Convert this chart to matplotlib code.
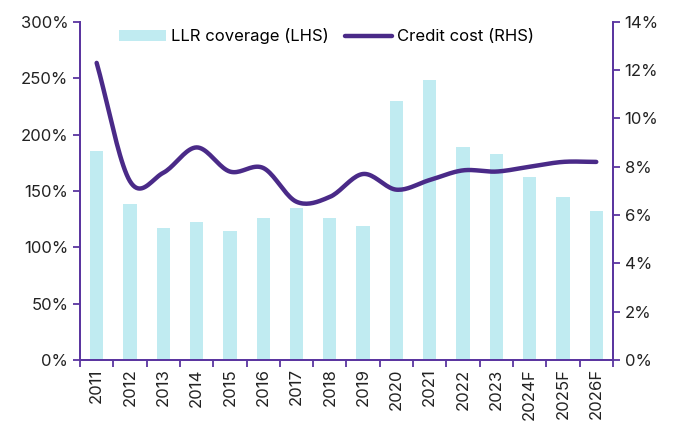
import matplotlib.pyplot as plt
import numpy as np

years = ["2011", "2012", "2013", "2014", "2015", "2016", "2017", "2018", "2019",
         "2020", "2021", "2022", "2023", "2024F", "2025F", "2026F"]
llr_coverage = [185, 138, 117, 122, 114, 126, 135, 126, 119,
                230, 248, 189, 183, 162, 145, 132]
credit_cost = [12.3, 7.4, 7.75, 8.8, 7.8, 7.95, 6.55, 6.75, 7.7,
               7.05, 7.45, 7.85, 7.8, 8.0, 8.2, 8.2]

purple = "#4a2a88"
spine_purple = "#5a35a0"
bar_col = "#c0ebf1"

plt.rcParams['font.family'] = ['Inter', 'DejaVu Sans']


def smooth(x, y, n=20):
    # catmull-rom curve through the points
    x = np.asarray(x, float)
    y = np.asarray(y, float)
    px = np.concatenate([[2 * x[0] - x[1]], x, [2 * x[-1] - x[-2]]])
    py = np.concatenate([[2 * y[0] - y[1]], y, [2 * y[-1] - y[-2]]])
    xs, ys = [], []
    t = np.linspace(0, 1, n, endpoint=False)
    for i in range(1, len(px) - 2):
        for p, out in ((px, xs), (py, ys)):
            p0, p1, p2, p3 = p[i - 1], p[i], p[i + 1], p[i + 2]
            out.extend(0.5 * (2 * p1 + (-p0 + p2) * t
                              + (2 * p0 - 5 * p1 + 4 * p2 - p3) * t ** 2
                              + (-p0 + 3 * p1 - 3 * p2 + p3) * t ** 3))
    xs.append(x[-1])
    ys.append(y[-1])
    return np.array(xs), np.array(ys)


fig = plt.figure(figsize=(6.78, 4.28), dpi=100)
ax = fig.add_axes([0.118, 0.159, 0.786, 0.79])
ax2 = ax.twinx()

x = np.arange(len(years))
b = ax.bar(x, llr_coverage, width=0.4, color=bar_col, label="LLR coverage (LHS)", zorder=1)
sx, sy = smooth(x, credit_cost)
l, = ax2.plot(sx, sy, color=purple, lw=3.2, solid_capstyle='round', label="Credit cost (RHS)")

ax.set_xlim(-0.5, len(years) - 0.5)
ax.set_ylim(0, 300)
ax2.set_ylim(0, 14)
ax.set_yticks(np.arange(0, 301, 50))
ax.set_yticklabels([f"{v}%" for v in range(0, 301, 50)])
ax2.set_yticks(np.arange(0, 15, 2))
ax2.set_yticklabels([f"{v}%" for v in range(0, 15, 2)])

ax.set_xticks(np.arange(-0.5, len(years), 1))
ax.set_xticklabels([])
ax.set_xticks(x, minor=True)
ax.set_xticklabels(years, minor=True, rotation=90)
ax.tick_params(axis='x', which='minor', length=0, pad=6)

fs = 12
for a in (ax, ax2):
    a.spines['top'].set_visible(False)
    for s in ('left', 'right', 'bottom'):
        a.spines[s].set_color(spine_purple)
        a.spines[s].set_linewidth(1.3)
    a.tick_params(axis='both', which='major', color=spine_purple, length=5,
                  width=1.3, labelsize=fs, labelcolor="#222222")
ax.tick_params(axis='x', which='minor', labelsize=fs, labelcolor="#222222")

ax.legend([b, l], ["LLR coverage (LHS)", "Credit cost (RHS)"], loc='upper center',
          ncol=2, frameon=False, fontsize=fs, bbox_to_anchor=(0.463, 1.025),
          handlelength=2.8, handletextpad=0.3, columnspacing=1.0)

fig.savefig("out.png", dpi=100)
